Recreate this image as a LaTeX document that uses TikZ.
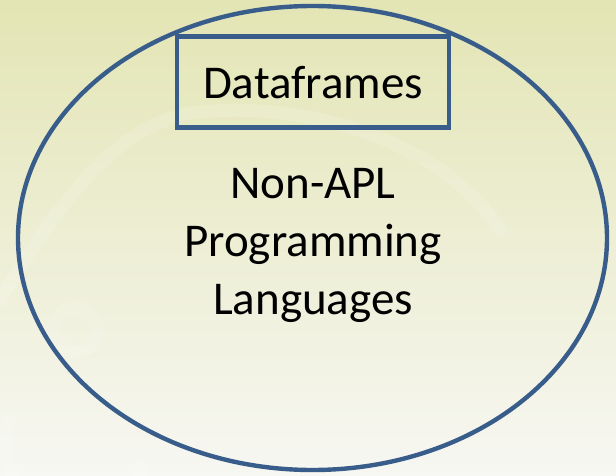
\documentclass[tikz,border=0pt]{standalone}
\usepackage{fontspec}
\setmainfont{Carlito}
\definecolor{setblue}{RGB}{56,93,138}
\definecolor{bgtop}{RGB}{227,229,180}
\definecolor{bgmid}{RGB}{238,240,198}
\definecolor{bgbot}{RGB}{247,247,243}
\tikzset{
  setline/.style={draw=setblue, line width=4.4pt},
  swirl/.style={draw=white, line width=13pt, opacity=0.14, line cap=round},
  biglabel/.style={font=\fontsize{47}{58}\selectfont, inner sep=0pt, align=center}
}
\begin{document}
\begin{tikzpicture}[x=1pt, y=-1pt]
            \useasboundingbox (0,0) rectangle (616,476);
            % background with faint swirl
            \shade[top color=bgtop, middle color=bgmid, bottom color=bgbot] (0,0) rectangle (616,476);
            \draw[swirl] (0,300) .. controls (60,200) and (120,120) .. (200,112) .. controls (320,100) and (450,150) .. (500,230);
            \draw[swirl] (75,330) circle (22);
            \draw[swirl] (10,420) arc (200:20:70);
            \draw[swirl] (-20,476) arc (190:10:110);
            % outer set
            \draw[setline] (312.5,238) ellipse (294.5 and 232);
            % inner set
            \node[setline, minimum width=272pt, minimum height=91pt, biglabel] (frames) at (313,82.2) {Dataframes};
            \node[biglabel] (langs) at (313,245) {Non-APL\\Programming\\Languages};
\end{tikzpicture}
\end{document}
